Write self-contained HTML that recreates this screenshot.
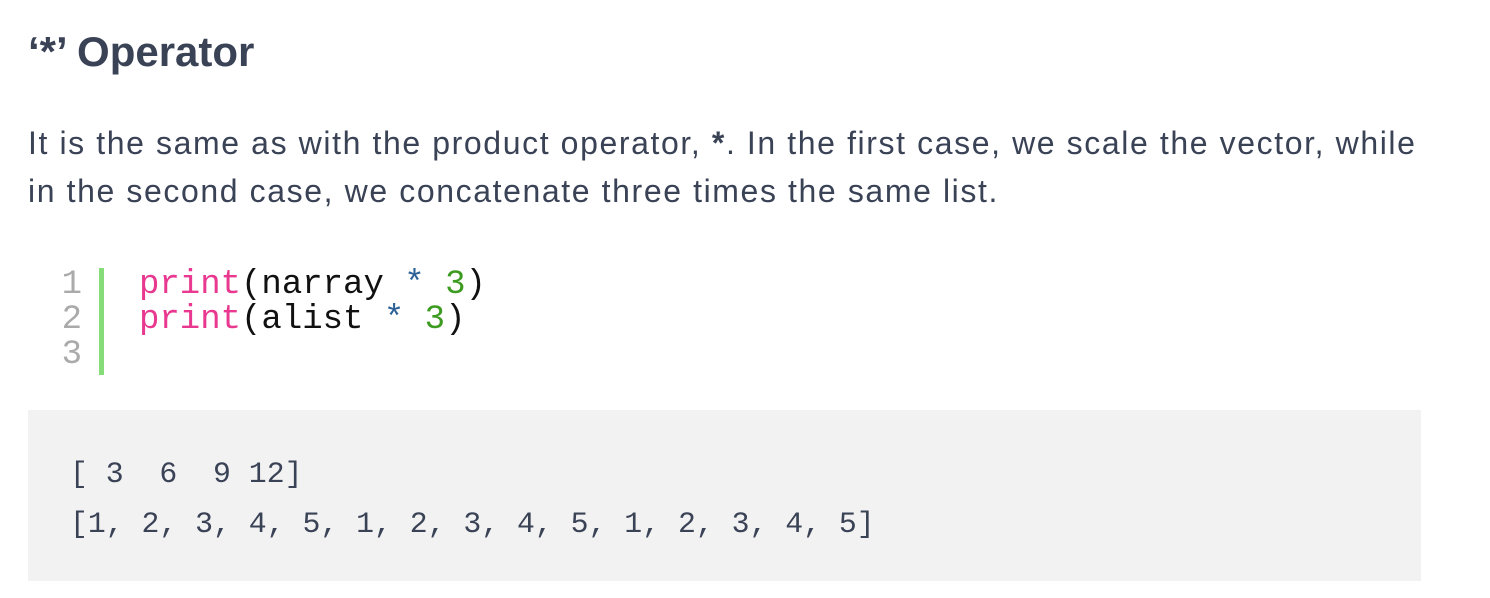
<!DOCTYPE html>
<html><head><style>
body{margin:0;width:1490px;height:598px;background:#fff;position:relative;overflow:hidden;font-family:"Liberation Sans",sans-serif;color:#3a4256}
.a{position:absolute;white-space:nowrap}
h1{position:absolute;left:28px;top:27px;margin:0;font-size:42px;font-weight:bold;line-height:50px}
.p{left:28px;font-size:32px;line-height:48px;letter-spacing:1.6px}
.code{font-family:"Liberation Mono",monospace;font-size:34px;line-height:35px}
.pk{color:#e8388f}.bl{color:#2b6197}.gr{color:#3d9b22}
.ln{color:#aaa;text-align:right}
.out{position:absolute;left:28px;top:410px;width:1393px;height:171px;background:#f2f2f2}
.o{font-family:"Liberation Mono",monospace;font-size:29.8px;line-height:50px;color:#3a4256}
</style></head><body>
<h1>‘*’ Operator</h1>
<div class="a p" style="top:119px">It is the same as with the product operator, <b>*</b>. In the first case, we scale the vector, while</div>
<div class="a p" style="top:167px">in the second case, we concatenate three times the same list.</div>
<div class="a code ln" style="left:56px;top:268px;width:26px">1<br>2<br>3</div>
<div class="a" style="left:99px;top:268px;width:5px;height:107px;background:#86dc78"></div>
<div class="a code" style="left:139px;top:268px;color:#111"><span class="pk">print</span>(narray <span class="bl">*</span> <span class="gr">3</span>)<br><span class="pk">print</span>(alist <span class="bl">*</span> <span class="gr">3</span>)</div>
<div class="out"></div>
<div class="a o" style="left:70px;top:449px">[ 3&nbsp; 6&nbsp; 9 12]<br>[1, 2, 3, 4, 5, 1, 2, 3, 4, 5, 1, 2, 3, 4, 5]</div>
</body></html>
